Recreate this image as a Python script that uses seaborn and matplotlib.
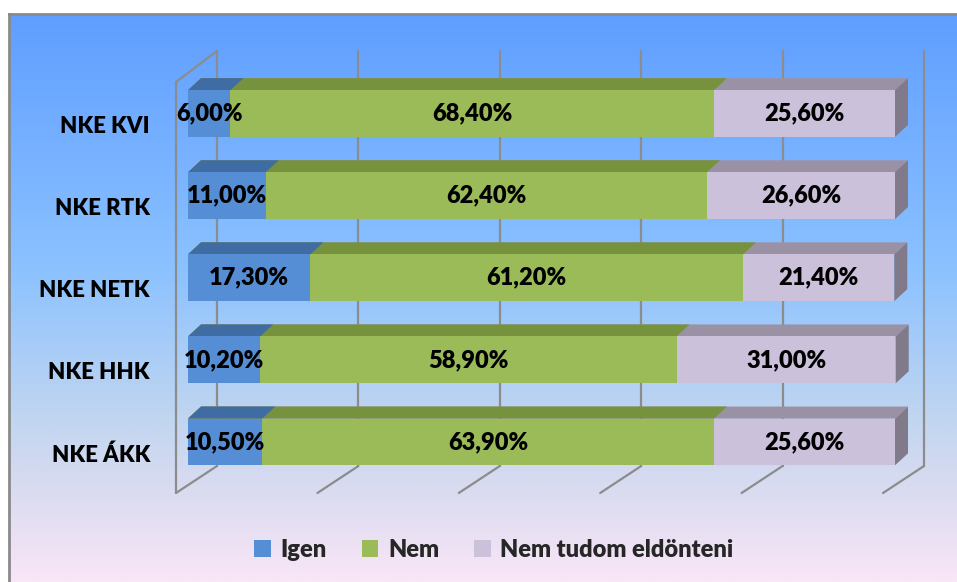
import numpy as np
import pandas as pd
import matplotlib
matplotlib.use("Agg")
import matplotlib.pyplot as plt
import matplotlib.transforms as mtransforms
from matplotlib.patches import Polygon, Patch
from matplotlib.colors import LinearSegmentedColormap
import seaborn as sns

# data
schools = ["NKE KVI", "NKE RTK", "NKE NETK", "NKE HHK", "NKE ÁKK"]
igen = [6.0, 11.0, 17.3, 10.2, 10.5]
nem = [68.4, 62.4, 61.2, 58.9, 63.9]
nem_tudom = [25.6, 26.6, 21.4, 31.0, 25.6]
series_names = ["Igen", "Nem", "Nem tudom eldönteni"]

front_cols = ["#558ed5", "#9bbb59", "#ccc1da"]
top_cols = ["#3f6ca3", "#77923c", "#9b91a5"]
side_col = "#807a8a"

sns.set_theme(style="white")
plt.rcParams["font.family"] = ["Lato", "DejaVu Sans"]
FW = "heavy"
FS = 17

W, H = 957, 582
fig = plt.figure(figsize=(W / 100, H / 100), dpi=100)
fig.patch.set_facecolor("white")


def px(x, y, w, h):
    return [x / W, 1 - (y + h) / H, w / W, h / H]


# gradient background
bg = fig.add_axes(px(9, 14, 948, 568))
cmap = LinearSegmentedColormap.from_list(
    "bg", [(0, "#5f9eff"), (0.45, "#8cc2ff"), (0.72, "#c2d6f0"),
           (0.85, "#dcdcf0"), (1.0, "#f9e6f7")])
bg.imshow(np.linspace(0, 1, 256).reshape(-1, 1), aspect="auto", cmap=cmap,
          extent=[0, 1, 0, 1])
bg.set_xticks([])
bg.set_yticks([])
for s in ["right", "bottom"]:
    bg.spines[s].set_visible(False)
for s in ["left", "top"]:
    bg.spines[s].set_color("#8a8a8a")
    bg.spines[s].set_linewidth(2)

# main axes = front plane of the bars
ax_x, ax_y, ax_w, ax_h = 188, 72.5, 707, 410.5
ax = fig.add_axes(px(ax_x, ax_y, ax_w, ax_h))
ax.patch.set_alpha(0)

df = pd.DataFrame({"school": schools, "Igen": igen, "Nem": nem,
                   "Nem tudom eldönteni": nem_tudom})
df["c1"] = df["Igen"]
df["c2"] = df["Igen"] + df["Nem"]
df["c3"] = df["c2"] + df["Nem tudom eldönteni"]

ux = 100 / ax_w          # data units per pixel
uy = 5 / ax_h
ddx, ddy = 13 * ux, -12 * uy   # bar depth


def ypx(p):
    return -0.5 + (p - ax_y) * uy


# back grid, walls and floor
grid_c = "#8c8c8c"
for v in [0, 20, 40, 60, 80, 100]:
    xb = v + 29 * ux
    xf = v - 12 * ux
    ax.plot([xb, xb], [ypx(51), ypx(466)], color=grid_c, lw=1.6,
            clip_on=False, zorder=0)
    ax.plot([xb, xf], [ypx(466), ypx(493)], color=grid_c, lw=1.6,
            clip_on=False, zorder=0)
x0f = -12 * ux
ax.plot([x0f, x0f], [ypx(82), ypx(493)], color=grid_c, lw=1.6, clip_on=False, zorder=0)
ax.plot([x0f, 29 * ux], [ypx(82), ypx(51)], color=grid_c, lw=1.6, clip_on=False, zorder=0)

# stacked bars, drawn as overlapping cumulative bars
layers = ["c3", "c2", "c1"]
for k, (col, i) in enumerate(zip(layers, [2, 1, 0])):
    z = 2 + k * 2
    sns.barplot(data=df, x=col, y="school", orient="y", color=front_cols[i],
                saturation=1, width=0.57, ax=ax, zorder=z + 1, linewidth=0)
    for bar in ax.containers[-1]:
        x0, y0 = bar.get_x(), bar.get_y()
        x1 = x0 + bar.get_width()
        top = Polygon([(x0, y0), (x1, y0), (x1 + ddx, y0 + ddy), (x0 + ddx, y0 + ddy)],
                      closed=True, fc=top_cols[i], ec="none", zorder=z, clip_on=False)
        ax.add_patch(top)
        if i == 2:
            y1 = y0 + bar.get_height()
            side = Polygon([(x1, y0), (x1 + ddx, y0 + ddy), (x1 + ddx, y1 + ddy), (x1, y1)],
                           closed=True, fc=side_col, ec="none", zorder=z, clip_on=False)
            ax.add_patch(side)

# value labels
for j in range(len(schools)):
    starts = [0, igen[j], igen[j] + nem[j]]
    vals = [igen[j], nem[j], nem_tudom[j]]
    for s, v in zip(starts, vals):
        ax.text(s + v / 2, j, f"{v:.2f}%".replace(".", ","), ha="center",
                va="center", fontsize=FS, fontweight=FW, color="black",
                zorder=20)

ax.set_xlim(0, 100)
ax.set_ylim(4.5, -0.5)
ax.set_xticks([])
ax.set_xlabel("")
ax.set_ylabel("")
sns.despine(ax=ax, left=True, bottom=True)
ax.tick_params(axis="y", length=0, pad=27.4)
shift = mtransforms.ScaledTranslation(0, -11 / 100, fig.dpi_scale_trans)
for lab in ax.get_yticklabels():
    lab.set_fontsize(16)
    lab.set_fontweight(FW)
    lab.set_color("black")
    lab.set_transform(lab.get_transform() + shift)

handles = [Patch(fc=c, ec="none") for c in front_cols]
fig.legend(handles, series_names, loc="center", bbox_to_anchor=(494 / W, 1 - 550 / H),
           ncol=3, frameon=False, handlelength=0.7, handleheight=0.7,
           handletextpad=0.4, columnspacing=1.5,
           prop={"size": FS, "weight": FW})

fig.savefig("out.png", dpi=100)
